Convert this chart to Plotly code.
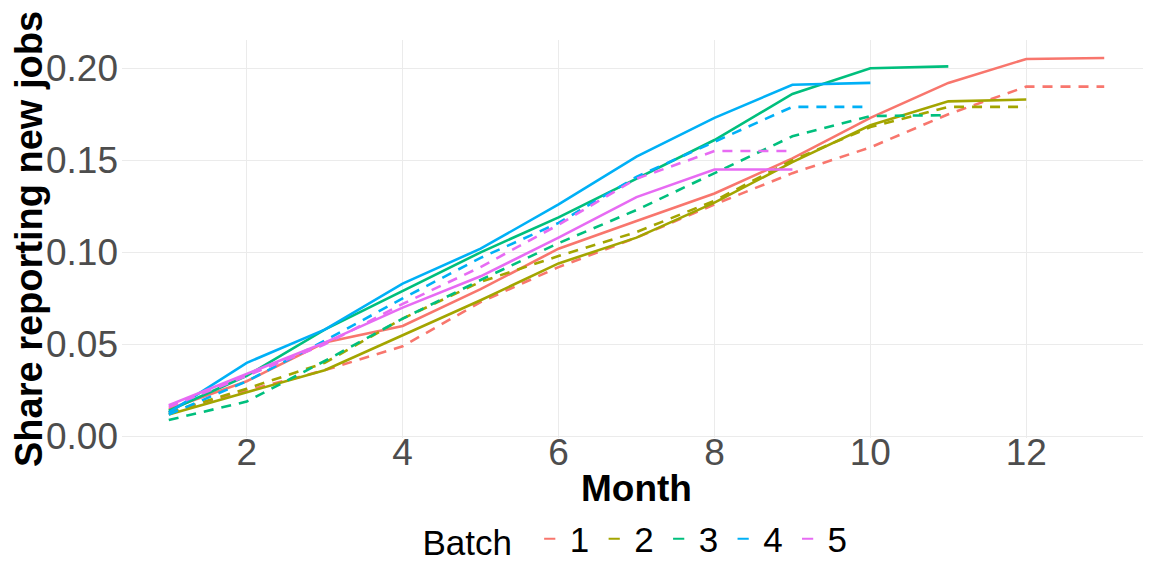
import plotly.graph_objects as go

months = list(range(1, 14))
batches = ["1", "2", "3", "4", "5"]
colors = ["#F8766D", "#A3A500", "#00BF7D", "#00B0F6", "#E76BF3"]

batch1_solid = [0.015, 0.030, 0.051, 0.060, 0.080, 0.102, 0.117, 0.132, 0.151, 0.173, 0.192, 0.205, 0.2055]
batch1_dashed = [0.013, 0.025, 0.036, 0.049, 0.073, 0.092, 0.108, 0.126, 0.143, 0.157, 0.175, 0.190, 0.190]
batch2_solid = [0.012, 0.024, 0.036, 0.055, 0.074, 0.094, 0.108, 0.127, 0.149, 0.169, 0.182, 0.183]
batch2_dashed = [0.013, 0.026, 0.040, 0.064, 0.084, 0.098, 0.111, 0.128, 0.150, 0.168, 0.179, 0.179]
batch3_solid = [0.014, 0.033, 0.058, 0.079, 0.100, 0.119, 0.140, 0.161, 0.186, 0.200, 0.201]
batch3_dashed = [0.009, 0.019, 0.041, 0.064, 0.085, 0.105, 0.123, 0.143, 0.163, 0.174, 0.1745]
batch4_solid = [0.013, 0.040, 0.058, 0.083, 0.102, 0.126, 0.152, 0.173, 0.191, 0.192]
batch4_dashed = [0.012, 0.030, 0.052, 0.075, 0.097, 0.116, 0.141, 0.160, 0.179, 0.179]
batch5_solid = [0.017, 0.034, 0.051, 0.070, 0.087, 0.108, 0.130, 0.145, 0.145]
batch5_dashed = [0.016, 0.033, 0.050, 0.072, 0.092, 0.115, 0.140, 0.155, 0.155]

solid = [batch1_solid, batch2_solid, batch3_solid, batch4_solid, batch5_solid]
dashed = [batch1_dashed, batch2_dashed, batch3_dashed, batch4_dashed, batch5_dashed]

x_ticks = [2, 4, 6, 8, 10, 12]
y_ticks = [0.0, 0.05, 0.10, 0.15, 0.20]
y_ticklabels = ["0.00", "0.05", "0.10", "0.15", "0.20"]

FONT = "Liberation Sans, Arial, sans-serif"

fig = go.Figure()
for b, c, s, d in zip(batches, colors, solid, dashed):
    fig.add_trace(go.Scatter(x=months[:len(s)], y=s, mode="lines",
                             line=dict(color=c, width=2.6), showlegend=False, hoverinfo="skip"))
    fig.add_trace(go.Scatter(x=months[:len(d)], y=d, mode="lines",
                             line=dict(color=c, width=2.6, dash="10px,8px"), showlegend=False, hoverinfo="skip"))
for b, c in zip(batches, colors):
    fig.add_trace(go.Scatter(x=[None], y=[None], mode="markers", name=b,
                             marker=dict(symbol="line-ew-open", size=8, color=c,
                                         line=dict(color=c, width=2))))

# page body has an 8px margin, so the figure is 8px smaller and margins shifted
fig.update_layout(
    width=1143, height=556,
    margin=dict(l=114, r=0, t=32, b=126),
    paper_bgcolor="white", plot_bgcolor="white",
    font=dict(family=FONT, color="black"),
    xaxis=dict(range=[0.4, 13.6], tickvals=x_ticks, ticktext=[str(v) for v in x_ticks],
               tickfont=dict(size=37, color="#4D4D4D"), showgrid=True, gridcolor="#EBEBEB",
               gridwidth=1, zeroline=False, showline=False, ticks="", ticklabelstandoff=-11,
               automargin=False,
               title=dict(text="<b>Month</b>", font=dict(size=37, color="black"), standoff=14)),
    yaxis=dict(range=[-0.0008, 0.2153], tickvals=y_ticks, ticktext=y_ticklabels,
               tickfont=dict(size=37, color="#4D4D4D"), showgrid=True, gridcolor="#EBEBEB",
               gridwidth=1, zeroline=False, showline=False, ticks="", ticklabelstandoff=3,
               automargin=False,
               title=dict(text="<b>Share reporting new jobs</b>", font=dict(size=38, color="black"), standoff=0)),
    legend=dict(orientation="h", x=0.5, xanchor="center", yref="container", y=0.045, yanchor="middle",
                font=dict(size=35, color="black"), title=dict(text="Batch ", side="left", font=dict(size=35)),
                itemwidth=30, tracegroupgap=0, bgcolor="rgba(0,0,0,0)"),
)

fig.write_html("out.html")
